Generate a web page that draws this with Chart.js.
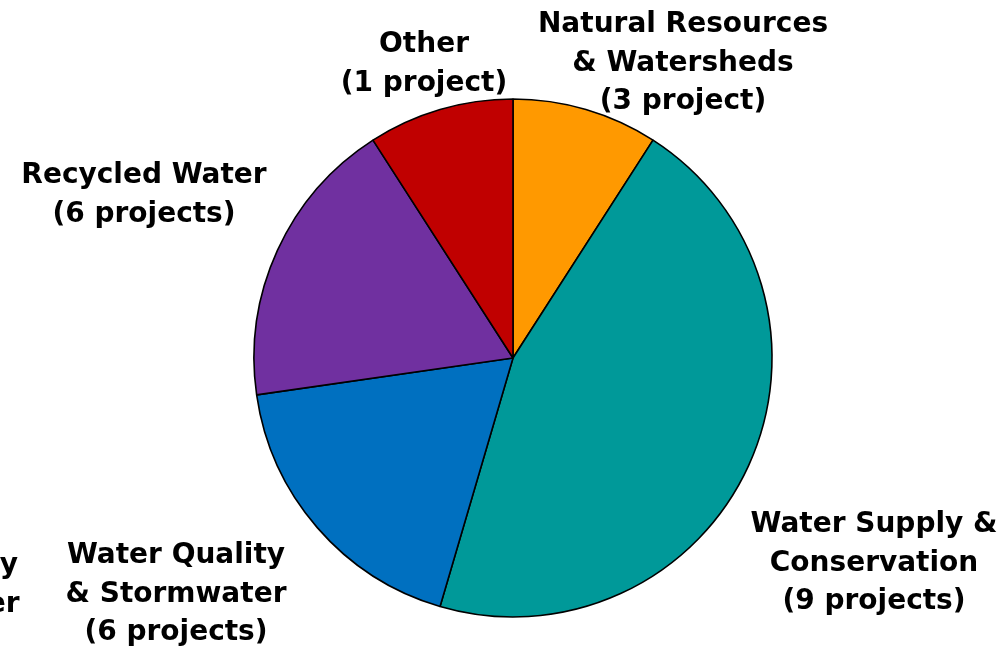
<!DOCTYPE html>
<html>
<head>
<meta charset="utf-8">
<script src="https://cdn.jsdelivr.net/npm/chart.js@4/dist/chart.umd.min.js"></script>
<style>
  html, body { margin: 0; padding: 0; background: #ffffff; }
  #wrap { width: 1000px; height: 648px; position: relative; }
</style>
</head>
<body>
<div id="wrap"><canvas id="c" width="1000" height="648"></canvas></div>
<script>
// ---- Data (slice sizes as drawn) ----
const categories = [
  "Natural Resources & Watersheds",
  "Water Supply & Conservation",
  "Water Quality & Stormwater",
  "Recycled Water",
  "Other"
];
const values = [3, 15, 6, 6, 3];
const labelLines = [
  ["Natural Resources", "& Watersheds", "(3 project)"],
  ["Water Supply &", "Conservation", "(9 projects)"],
  ["Water Quality", "& Stormwater", "(6 projects)"],
  ["Recycled Water", "(6 projects)"],
  ["Other", "(1 project)"]
];
const sliceColors = ["#FF9900", "#009999", "#0070C0", "#7030A0", "#C00000"];

// label anchor positions (center x, first-line baseline y), plus a clipped duplicate
const labelPos = [
  { x: 683, y: 32 },
  { x: 874, y: 532 },
  { x: 176, y: 563 },
  { x: 144, y: 183 },
  { x: 424, y: 52 }
];
const ghostLabel = { lines: labelLines[2], x: -91, y: 573 };

const labelPlugin = {
  id: 'sliceLabels',
  afterDraw(chart) {
    const ctx = chart.ctx;
    ctx.save();
    ctx.font = 'bold 28px "DejaVu Sans", Verdana, sans-serif';
    ctx.fillStyle = '#000000';
    ctx.textAlign = 'center';
    ctx.textBaseline = 'alphabetic';
    const lh = 38.5;
    const drawBlock = (lines, x, y) => {
      lines.forEach((t, i) => ctx.fillText(t, x, y + i * lh));
    };
    labelLines.forEach((lines, i) => drawBlock(lines, labelPos[i].x, labelPos[i].y));
    drawBlock(ghostLabel.lines, ghostLabel.x, ghostLabel.y);
    ctx.restore();
  }
};

new Chart(document.getElementById('c'), {
  type: 'pie',
  data: {
    labels: categories,
    datasets: [{
      data: values,
      backgroundColor: sliceColors,
      borderColor: '#000000',
      borderWidth: 1.6,
      hoverOffset: 0
    }]
  },
  options: {
    responsive: false,
    maintainAspectRatio: false,
    animation: false,
    radius: 259,
    layout: { padding: { left: 26, right: 0, top: 68, bottom: 0 } },
    plugins: {
      legend: { display: false },
      tooltip: { enabled: false }
    }
  },
  plugins: [labelPlugin]
});
</script>
</body>
</html>
